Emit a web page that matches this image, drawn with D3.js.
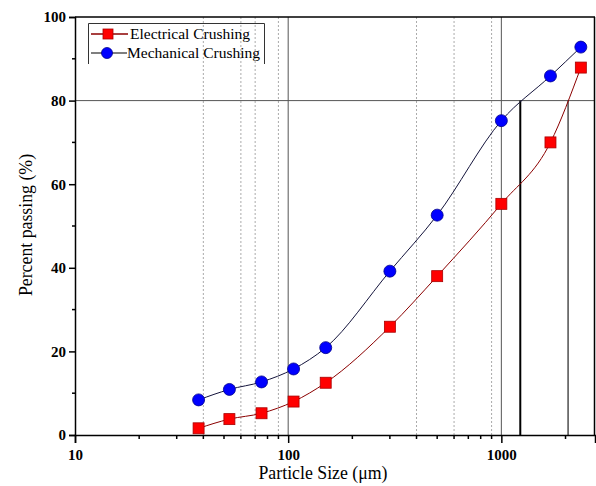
<!DOCTYPE html>
<html><head><meta charset="utf-8">
<script src="https://cdn.jsdelivr.net/npm/d3@7"></script>
<style>body{margin:0;background:#fff}svg{display:block}</style>
</head><body>
<script>
const sizes = [38, 53, 75, 106, 150, 300, 500, 1000, 1700, 2360];
const electrical = [1.6, 3.8, 5.2, 8.0, 12.5, 25.9, 38.0, 55.3, 70.0, 87.9];
const mechanical = [8.4, 10.9, 12.7, 15.8, 20.9, 39.2, 52.6, 75.2, 85.9, 92.8];
const seriesNames = ["Electrical Crushing", "Mechanical Crushing"];
const xMajorTicks = [10, 100, 1000];
const yTicks = [0, 20, 40, 60, 80, 100];
const dottedGrid = [40, 60, 70, 90, 400, 600, 900];
const solidGrid = [100, 1000];
const d80 = [1227, 2056];
const refLevel = 80;

const W = 596, H = 486;
const m = {l: 75, r: 1, t: 17, b: 51};
const svg = d3.select("body").append("svg").attr("width", W).attr("height", H);
const x = d3.scaleLog().domain([10, 2750]).range([m.l, W - m.r]);
const y = d3.scaleLinear().domain([0, 100]).range([H - m.b, m.t]);
const font = "'Liberation Serif','Times New Roman',serif";

// grid
svg.selectAll(".dg").data(dottedGrid).join("line")
  .attr("x1", d => x(d)).attr("x2", d => x(d)).attr("y1", y(0)).attr("y2", y(100))
  .attr("stroke", "#aaa").attr("stroke-width", 1).attr("stroke-dasharray", "2,2");
svg.selectAll(".sg").data(solidGrid).join("line")
  .attr("x1", d => x(d)).attr("x2", d => x(d)).attr("y1", y(0)).attr("y2", y(100))
  .attr("stroke", "#555").attr("stroke-width", 1);
svg.append("line").attr("x1", x.range()[0]).attr("x2", x.range()[1])
  .attr("y1", y(refLevel)).attr("y2", y(refLevel)).attr("stroke", "#555").attr("stroke-width", 1);
svg.selectAll(".d80").data(d80).join("line")
  .attr("x1", d => x(d)).attr("x2", d => x(d)).attr("y1", y(0)).attr("y2", y(refLevel))
  .attr("stroke", (d, i) => i === 0 ? "#000" : "#333").attr("stroke-width", (d, i) => i === 0 ? 2 : 1.3);

// frame
svg.append("line").attr("x1", m.l).attr("x2", W - m.r).attr("y1", m.t).attr("y2", m.t).attr("stroke", "#000").attr("stroke-width", 1.5);
svg.append("line").attr("x1", W - m.r - 0.5).attr("x2", W - m.r - 0.5).attr("y1", m.t).attr("y2", y(0)).attr("stroke", "#000").attr("stroke-width", 1.5);

// axes
const xAxis = d3.axisBottom(x).tickValues(xMajorTicks).tickFormat(d3.format("d")).tickSize(8).tickPadding(6);
const gx = svg.append("g").attr("transform", `translate(0,${y(0)})`).call(xAxis);
const minorX = [];
[10, 100, 1000].forEach(b => { for (let k = 2; k <= 9; k++) { const v = b * k; if (v <= 2750) minorX.push(v); } });
gx.selectAll(".minor").data(minorX).join("line").attr("class", "minor")
  .attr("x1", d => x(d)).attr("x2", d => x(d)).attr("y1", 0).attr("y2", 4).attr("stroke", "#000").attr("stroke-width", 1.5);
const yAxis = d3.axisLeft(y).tickValues(yTicks).tickSize(6).tickPadding(3);
const gy = svg.append("g").attr("transform", `translate(${m.l},0)`).call(yAxis);
gy.selectAll(".minor").data([10, 30, 50, 70, 90]).join("line").attr("class", "minor")
  .attr("x1", 0).attr("x2", -3).attr("y1", d => y(d)).attr("y2", d => y(d)).attr("stroke", "#000").attr("stroke-width", 1.5);
[gx, gy].forEach(g => {
  g.select(".domain").attr("stroke-width", 1.5);
  g.selectAll(".tick line").attr("stroke-width", 1.5);
  g.selectAll("text").attr("font-family", font).attr("font-size", 15).attr("font-weight", "bold").attr("fill", "#000");
});

// titles
svg.append("text").attr("x", 323).attr("y", 479).attr("text-anchor", "middle")
  .attr("font-family", font).attr("font-size", 17.8).text("Particle Size (μm)");
svg.append("text").attr("transform", "translate(32,225) rotate(-90)").attr("text-anchor", "middle")
  .attr("font-family", font).attr("font-size", 17.8).text("Percent passing (%)");

// curves
const mk = vals => sizes.map((s, i) => [x(s), y(vals[i])]);
const line = d3.line().curve(d3.curveMonotoneX);
svg.append("path").attr("d", line(mk(electrical))).attr("fill", "none").attr("stroke", "#8b0000").attr("stroke-width", 1);
svg.append("path").attr("d", line(mk(mechanical))).attr("fill", "none").attr("stroke", "#14143c").attr("stroke-width", 1);

svg.selectAll(".sq").data(sizes).join("rect")
  .attr("x", (d) => x(d) - 5.5).attr("y", (d, i) => y(electrical[i]) - 5.5)
  .attr("width", 11).attr("height", 11).attr("fill", "#f00").attr("stroke", "#a00").attr("stroke-width", 0.8);
svg.selectAll(".ci").data(sizes).join("circle")
  .attr("cx", d => x(d)).attr("cy", (d, i) => y(mechanical[i])).attr("r", 6)
  .attr("fill", "#00f").attr("stroke", "#00008b").attr("stroke-width", 0.8);

// legend
svg.append("path").attr("d", "M88.5,64V23.5H264.5V64").attr("fill", "none").attr("stroke", "#333").attr("stroke-width", 1);
svg.append("line").attr("x1", 91).attr("x2", 128).attr("y1", 34).attr("y2", 34).attr("stroke", "#8b0000").attr("stroke-width", 1.3);
svg.append("rect").attr("x", 103).attr("y", 29).attr("width", 10).attr("height", 10).attr("fill", "#f00").attr("stroke", "#a00").attr("stroke-width", 0.8);
svg.append("line").attr("x1", 91).attr("x2", 127).attr("y1", 53).attr("y2", 53).attr("stroke", "#555").attr("stroke-width", 1.3);
svg.append("circle").attr("cx", 107).attr("cy", 53).attr("r", 5.5).attr("fill", "#00f").attr("stroke", "#00008b").attr("stroke-width", 0.8);
svg.append("text").attr("x", 130).attr("y", 39).attr("font-family", font).attr("font-size", 15.5).text(seriesNames[0]);
svg.append("text").attr("x", 127).attr("y", 58).attr("font-family", font).attr("font-size", 15.5).text(seriesNames[1]);
</script>
</body></html>
